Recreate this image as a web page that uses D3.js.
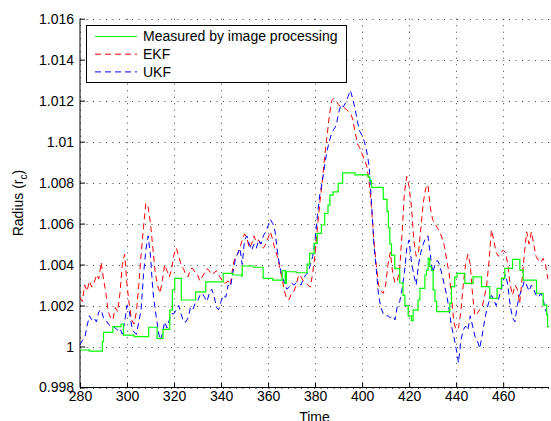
<!DOCTYPE html>
<html>
<head>
<meta charset="utf-8">
<script src="https://cdn.jsdelivr.net/npm/d3@7"></script>
<style>
  body { margin: 0; background: #fff; }
  text { font-family: "Liberation Sans", Arial, sans-serif; }
</style>
</head>
<body>
<div id="chart"></div>
<script>
var width = 551,
	height = 421;

// measured by image processing (step series), [time, radius]
var measured = [
	[280, 0.99983], [284, 0.99978], [289.5, 1.00023], [290, 1.00069], [294, 1.00097], [297.5, 1.0011],
	[298.5, 1.00056], [303, 1.00048], [309.2, 1.00094], [312.8, 1.0004], [315.3, 1.00084],
	[318.2, 1.00178], [319.3, 1.00276], [320.3, 1.00333], [323.1, 1.00227], [329.2, 1.00267],
	[333.5, 1.00316], [340.9, 1.00357], [345, 1.00349], [348.7, 1.00344], [349, 1.00393],
	[354, 1.00387], [357.9, 1.00333], [362, 1.00324], [366, 1.0037], [367.3, 1.00308], [367.8, 1.00365],
	[372, 1.0036], [376.6, 1.00402], [377.7, 1.00455], [379.6, 1.00503], [380.9, 1.00552],
	[382.7, 1.00593], [384.1, 1.0065], [385.5, 1.0069], [386.3, 1.00739], [387.7, 1.00755],
	[389.8, 1.00796], [391.7, 1.00848], [397, 1.00838], [402.5, 1.00828], [403.3, 1.0081],
	[404, 1.00777], [409, 1.00718], [410.6, 1.0066], [411.2, 1.0058], [411.8, 1.0050],
	[412.5, 1.00446], [413.9, 1.0038], [416, 1.0031], [417.4, 1.0025], [418.2, 1.0020],
	[419.6, 1.0015], [421, 1.00126], [421.7, 1.00178], [423.8, 1.00227], [424.6, 1.00284],
	[426.7, 1.00349], [427.4, 1.00373], [428.1, 1.0043], [428.8, 1.0039], [429.5, 1.0037],
	[430.2, 1.00276], [431, 1.0022], [431.7, 1.0017], [437.3, 1.00211], [438, 1.00292],
	[439.4, 1.0034], [440.4, 1.00357], [443.7, 1.00308], [447.2, 1.0034], [450.8, 1.00292],
	[454.3, 1.00235], [457.4, 1.00284], [459.3, 1.00333], [460.7, 1.00381], [464, 1.00425],
	[467.1, 1.00373], [468.5, 1.00324], [474.2, 1.0026], [477, 1.00202], [478.5, 1.00154],
	[478.9, 1.00097], [479.5, 1.00097]
];

// EKF estimate, one sample per time step
var ekfTime = [
	280, 281, 282, 283, 284, 285, 286, 287, 288, 289, 290, 291, 292, 293, 294, 295, 296, 297, 298, 299,
	300, 301, 302, 303, 304, 305, 306, 307, 308, 309, 310, 311, 312, 313, 314, 315, 316, 317, 318, 319,
	320, 321, 322, 323, 324, 325, 326, 327, 328, 329, 330, 331, 332, 333, 334, 335, 336, 337, 338, 339,
	340, 341, 342, 343, 344, 345, 346, 347, 348, 349, 350, 351, 352, 353, 354, 355, 356, 357, 358, 359,
	360, 361, 362, 363, 364, 365, 366, 367, 368, 369, 370, 371, 372, 373, 374, 375, 376, 377, 378, 379,
	380, 381, 382, 383, 384, 385, 386, 387, 388, 389, 390, 391, 392, 393, 394, 395, 396, 397, 398, 399,
	400, 401, 402, 403, 404, 405, 406, 407, 408, 409, 410, 411, 412, 413, 414, 415, 416, 417, 418, 419,
	420, 421, 422, 423, 424, 425, 426, 427, 428, 429, 430, 431, 432, 433, 434, 435, 436, 437, 438, 439,
	440, 441, 442, 443, 444, 445, 446, 447, 448, 449, 450, 451, 452, 453, 454, 455, 456, 457, 458, 459,
	460, 461, 462, 463, 464, 465, 466, 467, 468, 469, 470, 471, 472, 473, 474, 475, 476, 477, 478, 479
];
var ekfValue = [
	1.0024, 1.0022, 1.0030, 1.0027, 1.0032, 1.0029, 1.0031, 1.0035, 1.0033, 1.0041,
	1.0033, 1.0026, 1.0017, 1.0014, 1.0013, 1.0019, 1.0017, 1.0026, 1.0040, 1.0045,
	1.0030, 1.0020, 1.0013, 1.0011, 1.0017, 1.0030, 1.0045, 1.0058, 1.0070, 1.0068,
	1.0060, 1.0048, 1.0036, 1.0030, 1.0026, 1.0032, 1.0040, 1.0037, 1.0034, 1.0038,
	1.0045, 1.0048, 1.0044, 1.0040, 1.0038, 1.0035, 1.0034, 1.0038, 1.0038, 1.0036,
	1.0035, 1.0032, 1.0034, 1.0036, 1.0038, 1.0037, 1.0035, 1.0036, 1.0037, 1.0035,
	1.0033, 1.0031, 1.0031, 1.0032, 1.0030, 1.0039, 1.0044, 1.0045, 1.0048, 1.0052,
	1.0055, 1.0053, 1.0048, 1.0050, 1.0054, 1.0051, 1.0052, 1.0049, 1.0048, 1.0050,
	1.0053, 1.0056, 1.0052, 1.0047, 1.0044, 1.0038, 1.0033, 1.0027, 1.0023, 1.0023,
	1.0026, 1.0027, 1.0030, 1.0035, 1.0034, 1.0032, 1.0031, 1.0030, 1.0029, 1.0036,
	1.0045, 1.0058, 1.0070, 1.0080, 1.0092, 1.0102, 1.0112, 1.0120, 1.0121, 1.0120,
	1.0118, 1.0117, 1.0117, 1.0116, 1.0115, 1.0114, 1.0111, 1.0105, 1.0099, 1.0097,
	1.0094, 1.0091, 1.0088, 1.0080, 1.0068, 1.0052, 1.0040, 1.0030, 1.0027, 1.0026,
	1.0030, 1.0040, 1.0046, 1.0036, 1.0031, 1.0032, 1.0038, 1.0055, 1.0075, 1.0083,
	1.0078, 1.0068, 1.0052, 1.0044, 1.0046, 1.0058, 1.0070, 1.0077, 1.0079, 1.0068,
	1.0062, 1.0060, 1.0058, 1.0056, 1.0053, 1.0049, 1.0042, 1.0036, 1.0025, 1.0012,
	1.0008, 1.0009, 1.0017, 1.0030, 1.0040, 1.0045, 1.0040, 1.0025, 1.0015, 1.0016,
	1.0018, 1.0019, 1.0024, 1.0030, 1.0042, 1.0057, 1.0052, 1.0046, 1.0044, 1.0046,
	1.0047, 1.0046, 1.0040, 1.0030, 1.0025, 1.0030, 1.0028, 1.0021, 1.0032, 1.0045,
	1.0056, 1.0050, 1.0056, 1.0050, 1.0044, 1.0042, 1.0041, 1.0043, 1.0040, 1.0033
];

// UKF estimate, same time steps
var ukfValue = [
	1.0001, 1.0003, 1.0004, 1.0010, 1.0015, 1.0013, 1.0014, 1.0012, 1.0017, 1.0018,
	1.0014, 1.0013, 1.0011, 1.0010, 1.0010, 1.0009, 1.0008, 1.0009, 1.0006, 1.0012,
	1.0020, 1.0017, 1.0010, 1.0007, 1.0006, 1.0012, 1.0018, 1.0035, 1.0047, 1.0054,
	1.0044, 1.0027, 1.0018, 1.0010, 1.0003, 1.0006, 1.0012, 1.0009, 1.0013, 1.0016,
	1.0016, 1.0018, 1.0020, 1.0016, 1.0012, 1.0012, 1.0014, 1.0019, 1.0018, 1.0021,
	1.0022, 1.0025, 1.0026, 1.0024, 1.0022, 1.0026, 1.0028, 1.0025, 1.0019, 1.0018,
	1.0022, 1.0025, 1.0024, 1.0030, 1.0029, 1.0036, 1.0042, 1.0045, 1.0048, 1.0040,
	1.0052, 1.0054, 1.0050, 1.0047, 1.0050, 1.0048, 1.0052, 1.0050, 1.0054, 1.0056,
	1.0059, 1.0062, 1.0060, 1.0056, 1.0046, 1.0039, 1.0034, 1.0031, 1.0028, 1.0029,
	1.0031, 1.0030, 1.0031, 1.0031, 1.0030, 1.0033, 1.0035, 1.0036, 1.0040, 1.0044,
	1.0052, 1.0064, 1.0074, 1.0080, 1.0088, 1.0095, 1.0100, 1.0104, 1.0106, 1.0108,
	1.0114, 1.0118, 1.0117, 1.0119, 1.0122, 1.0125, 1.0121, 1.0116, 1.0110, 1.0105,
	1.0103, 1.0100, 1.0095, 1.0088, 1.0070, 1.0050, 1.0038, 1.0025, 1.0019, 1.0016,
	1.0015, 1.0015, 1.0014, 1.0015, 1.0013, 1.0020, 1.0022, 1.0028, 1.0036, 1.0048,
	1.0052, 1.0041, 1.0035, 1.0030, 1.0040, 1.0046, 1.0050, 1.0053, 1.0054, 1.0045,
	1.0036, 1.0040, 1.0042, 1.0040, 1.0035, 1.0030, 1.0025, 1.0018, 1.0010, 1.0005,
	0.9999, 0.9992, 1.0003, 1.0008, 1.0010, 1.0008, 1.0015, 1.0010, 1.0005, 1.0003,
	0.9999, 1.0005, 1.0012, 1.0018, 1.0022, 1.0025, 1.0023, 1.0020, 1.0023, 1.0027,
	1.0032, 1.0035, 1.0030, 1.0020, 1.0014, 1.0012, 1.0020, 1.0025, 1.0028, 1.0032,
	1.0030, 1.0027, 1.0030, 1.0028, 1.0025, 1.0024, 1.0026, 1.0023, 1.0018, 1.0015
];

var xTicks = [280, 300, 320, 340, 360, 380, 400, 420, 440, 460];
var yTicks = [0.998, 1, 1.002, 1.004, 1.006, 1.008, 1.01, 1.012, 1.014, 1.016];
var legendLabels = ["Measured by image processing", "EKF", "UKF"];

var ekf = ekfTime.map(function(t, i) { return [t, ekfValue[i]] });
var ukf = ekfTime.map(function(t, i) { return [t, ukfValue[i]] });

var plotLeft = 80, plotRight = 549, plotTop = 18.7, plotBottom = 387.5;

var x = d3.scaleLinear().domain([280, 479.5]).range([plotLeft, plotRight]);
var y = d3.scaleLinear().domain([0.998, 1.016]).range([plotBottom, plotTop]);

var svg = d3.select("#chart")
	.append("svg")
	.attr("width", width)
	.attr("height", height);

// dotted grid
var grid = svg.append("g")
	.attr("stroke", "#444")
	.attr("stroke-width", 1)
	.attr("stroke-dasharray", "1,5.5");

grid.selectAll(".vgrid")
	.data(xTicks)
	.enter().append("line")
	.attr("x1", function(d) { return Math.round(x(d)) + 0.5 })
	.attr("x2", function(d) { return Math.round(x(d)) + 0.5 })
	.attr("y1", plotTop)
	.attr("y2", plotBottom);

grid.selectAll(".hgrid")
	.data(yTicks)
	.enter().append("line")
	.attr("y1", function(d) { return Math.round(y(d)) + 0.5 })
	.attr("y2", function(d) { return Math.round(y(d)) + 0.5 })
	.attr("x1", plotLeft)
	.attr("x2", plotRight);

// axes, ticks pointing inward like matlab
var xAxis = d3.axisBottom(x)
	.tickValues(xTicks)
	.tickSize(-5)
	.tickPadding(4)
	.tickFormat(d3.format("d"));

var yAxis = d3.axisLeft(y)
	.tickValues(yTicks)
	.tickSize(-5)
	.tickPadding(6)
	.tickFormat(function(d) { return +d.toFixed(3) + "" });

var gx = svg.append("g")
	.attr("transform", "translate(0," + plotBottom + ")")
	.call(xAxis);

var gy = svg.append("g")
	.attr("transform", "translate(" + plotLeft + ",0)")
	.call(yAxis);

[gx, gy].forEach(function(g) {
	g.select(".domain").remove();
	g.selectAll("text")
		.attr("font-family", "Liberation Sans, Arial, sans-serif")
		.attr("font-size", 14)
		.attr("fill", "#000");
	g.selectAll("line").attr("stroke", "#000");
});

svg.append("line")
	.attr("x1", plotLeft).attr("x2", plotRight)
	.attr("y1", plotBottom).attr("y2", plotBottom)
	.attr("stroke", "#000");

svg.append("line")
	.attr("x1", plotLeft).attr("x2", plotLeft)
	.attr("y1", plotTop).attr("y2", plotBottom)
	.attr("stroke", "#000");

// series
var line = d3.line()
	.x(function(d) { return x(d[0]) })
	.y(function(d) { return y(d[1]) });

var stepLine = d3.line()
	.curve(d3.curveStepAfter)
	.x(function(d) { return x(d[0]) })
	.y(function(d) { return y(d[1]) });

var plot = svg.append("g");

plot.append("path")
	.datum(ekf)
	.attr("d", line)
	.attr("fill", "none")
	.attr("stroke", "#ff0000")
	.attr("stroke-width", 1)
	.attr("stroke-dasharray", "6,4");

plot.append("path")
	.datum(ukf)
	.attr("d", line)
	.attr("fill", "none")
	.attr("stroke", "#0000ff")
	.attr("stroke-width", 1)
	.attr("stroke-dasharray", "6,4");

plot.append("path")
	.datum(measured)
	.attr("d", stepLine)
	.attr("fill", "none")
	.attr("stroke", "#00ff00")
	.attr("stroke-width", 1.2);

// axis labels
svg.append("text")
	.attr("x", (plotLeft + plotRight) / 2)
	.attr("y", 422)
	.attr("text-anchor", "middle")
	.attr("font-size", 14)
	.text("Time");

var ylab = svg.append("text")
	.attr("transform", "translate(23," + (plotTop + plotBottom) / 2 + ") rotate(-90)")
	.attr("text-anchor", "middle")
	.attr("font-size", 14);
ylab.append("tspan").text("Radius (r");
ylab.append("tspan").attr("font-size", 10).attr("dy", 4).text("c");
ylab.append("tspan").attr("dy", -4).text(")");

// legend
var legend = svg.append("g");
legend.append("rect")
	.attr("x", 86.5).attr("y", 25.5)
	.attr("width", 260).attr("height", 57)
	.attr("fill", "#fff")
	.attr("stroke", "#000");

var legendStyles = [
	{ color: "#00ff00", dash: null },
	{ color: "#ff0000", dash: "6,4" },
	{ color: "#0000ff", dash: "6,4" }
];

legend.selectAll(".entry")
	.data(legendLabels)
	.enter().append("g")
	.attr("transform", function(d, i) { return "translate(0," + (36.5 + i * 17.7) + ")" })
	.each(function(d, i) {
		var g = d3.select(this);
		g.append("line")
			.attr("x1", 95).attr("x2", 137)
			.attr("stroke", legendStyles[i].color)
			.attr("stroke-width", i === 0 ? 1.2 : 1)
			.attr("stroke-dasharray", legendStyles[i].dash);
		g.append("text")
			.attr("x", 143)
			.attr("dy", "0.35em")
			.attr("font-size", 14)
			.text(d);
	});
</script>
</body>
</html>
